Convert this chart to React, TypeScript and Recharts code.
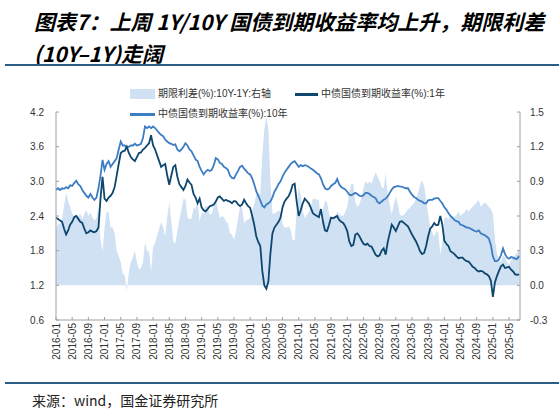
import { ComposedChart, Area, Line, XAxis, YAxis } from "recharts";

// semi-monthly readings, first point = 2016-01, step = half a month
const yield10Y = [
  2.85, 2.88, 2.85, 2.88, 2.87, 2.9, 2.88, 2.93, 2.92, 2.97, 3.01, 2.95, 2.92, 2.85, 2.8, 2.75, 2.72, 2.78, 2.72, 2.68,
  2.72, 2.88, 3.1, 3.37, 3.2, 3.3, 3.35, 3.25, 3.3, 3.35, 3.4, 3.55, 3.69, 3.62, 3.62, 3.58, 3.6, 3.62, 3.62, 3.65,
  3.62, 3.63, 3.65, 3.75, 3.95, 3.92, 3.95, 3.92, 3.95, 3.92, 3.88, 3.84, 3.8, 3.78, 3.72, 3.69, 3.66, 3.65, 3.63, 3.64,
  3.55, 3.52, 3.55, 3.6, 3.66, 3.62, 3.55, 3.52, 3.45, 3.38, 3.35, 3.25, 3.18, 3.12, 3.17, 3.2, 3.18, 3.2, 3.28, 3.4,
  3.38, 3.32, 3.3, 3.25, 3.23, 3.2, 3.1, 3.06, 3.05, 3.12, 3.18, 3.25, 3.27, 3.22, 3.18, 3.14, 3.12, 3.05, 2.95, 2.83,
  2.75, 2.67, 2.58, 2.55, 2.6, 2.62, 2.65, 2.72, 2.82, 2.88, 2.95, 3.0, 3.08, 3.15, 3.2, 3.25, 3.3, 3.33, 3.35, 3.3,
  3.25, 3.28, 3.26, 3.28, 3.27, 3.25, 3.22, 3.2, 3.17, 3.14, 3.12, 3.05, 2.95, 2.88, 2.86, 2.87, 2.92, 2.95, 2.97, 3.04,
  2.95, 2.9, 2.88, 2.86, 2.82, 2.77, 2.76, 2.78, 2.8, 2.78, 2.75, 2.74, 2.76, 2.8, 2.8, 2.78, 2.75, 2.73, 2.71, 2.64,
  2.62, 2.65, 2.68, 2.7, 2.74, 2.8, 2.86, 2.9, 2.91, 2.92, 2.91, 2.91, 2.89, 2.88, 2.88, 2.82, 2.77, 2.73, 2.71, 2.68,
  2.66, 2.65, 2.62, 2.62, 2.67, 2.68, 2.68, 2.7, 2.71, 2.71, 2.66, 2.62, 2.55, 2.51, 2.45, 2.4, 2.37, 2.33, 2.31, 2.3,
  2.25, 2.24, 2.22, 2.2, 2.2, 2.18, 2.16, 2.14, 2.13, 2.15, 2.1, 2.08, 2.07, 2.04, 2.01, 1.9, 1.7, 1.62, 1.62, 1.65,
  1.72, 1.84, 1.74, 1.68, 1.66, 1.69, 1.68, 1.66, 1.66, 1.71,
];

const yield1Y = [
  2.37, 2.35, 2.32, 2.3, 2.18, 2.08, 2.15, 2.25, 2.3, 2.38, 2.4, 2.35, 2.3, 2.28, 2.18, 2.1, 2.12, 2.15, 2.13, 2.12,
  2.14, 2.2, 2.7, 3.08, 2.7, 2.66, 2.72, 2.75, 2.8, 2.9, 3.1, 3.3, 3.49, 3.52, 3.53, 3.6, 3.49, 3.42, 3.38, 3.35,
  3.42, 3.49, 3.5, 3.55, 3.58, 3.62, 3.66, 3.8, 3.62, 3.55, 3.45, 3.35, 3.25, 3.28, 3.3, 3.1, 2.94, 3.1, 3.25, 3.28,
  3.08, 2.95, 2.9, 2.85, 2.92, 3.03, 2.98, 2.94, 2.78, 2.72, 2.62, 2.7, 2.55, 2.5, 2.48, 2.52, 2.57, 2.58, 2.6, 2.65,
  2.72, 2.74, 2.7, 2.66, 2.68, 2.66, 2.65, 2.62, 2.66, 2.65, 2.6, 2.57, 2.6, 2.68, 2.62, 2.57, 2.54, 2.4, 2.25, 2.05,
  1.95, 1.88, 1.45, 1.2, 1.14, 1.27, 1.75, 2.1, 2.2, 2.25, 2.3, 2.37, 2.55, 2.65, 2.7, 2.74, 2.82, 2.94, 2.96, 2.65,
  2.4, 2.5, 2.62, 2.7, 2.66, 2.62, 2.54, 2.45, 2.42, 2.4, 2.38, 2.52, 2.3, 2.15, 2.14, 2.25, 2.37, 2.36, 2.38, 2.4,
  2.33, 2.3, 2.28, 2.22, 2.14, 1.96, 1.88, 1.9, 2.08, 2.1, 2.05, 1.98, 1.92, 1.9, 1.92, 1.88, 1.87, 1.8, 1.73, 1.7,
  1.72, 1.8, 1.84, 1.73, 1.95, 2.1, 2.25, 2.2, 2.14, 2.22, 2.3, 2.31, 2.28, 2.25, 2.22, 2.15, 2.08, 2.02, 1.96, 1.88,
  1.79, 1.74, 1.76, 1.88, 2.05, 2.18, 2.22, 2.28, 2.24, 2.25, 2.4, 2.25, 1.97, 1.92, 1.88, 1.79, 1.77, 1.74, 1.7, 1.67,
  1.68, 1.68, 1.64, 1.62, 1.61, 1.57, 1.52, 1.5, 1.46, 1.44, 1.45, 1.44, 1.41, 1.39, 1.36, 1.28, 1.0, 1.25, 1.36, 1.45,
  1.53, 1.56, 1.5, 1.51, 1.52, 1.47, 1.44, 1.39, 1.38, 1.39,
];

const termSpread = [
  0.48, 0.53, 0.53, 0.58, 0.69, 0.8, 0.73, 0.68, 0.62, 0.59, 0.61, 0.6, 0.62, 0.57, 0.62, 0.65, 0.6, 0.63, 0.59, 0.56,
  0.58, 0.68, 0.4, 0.29, 0.5, 0.64, 0.63, 0.5, 0.5, 0.45, 0.3, 0.25, 0.2, 0.1, 0.09, -0.05, 0.11, 0.2, 0.24, 0.3,
  0.2, 0.14, 0.15, 0.2, 0.37, 0.3, 0.29, 0.12, 0.33, 0.37, 0.43, 0.49, 0.55, 0.5, 0.42, 0.59, 0.72, 0.55, 0.38, 0.36,
  0.47, 0.57, 0.65, 0.75, 0.74, 0.59, 0.57, 0.58, 0.67, 0.66, 0.73, 0.55, 0.63, 0.62, 0.69, 0.68, 0.61, 0.62, 0.68, 0.75,
  0.66, 0.58, 0.6, 0.59, 0.55, 0.54, 0.45, 0.44, 0.39, 0.47, 0.58, 0.68, 0.67, 0.54, 0.56, 0.57, 0.58, 0.65, 0.7, 0.78,
  0.8, 0.79, 1.13, 1.35, 1.46, 1.35, 0.9, 0.62, 0.62, 0.63, 0.65, 0.63, 0.53, 0.5, 0.5, 0.51, 0.48, 0.39, 0.39, 0.65,
  0.85, 0.78, 0.64, 0.58, 0.61, 0.63, 0.68, 0.75, 0.75, 0.74, 0.74, 0.53, 0.65, 0.73, 0.72, 0.62, 0.55, 0.59, 0.59, 0.64,
  0.62, 0.6, 0.6, 0.64, 0.68, 0.81, 0.88, 0.88, 0.72, 0.68, 0.7, 0.76, 0.84, 0.9, 0.88, 0.9, 0.88, 0.93, 0.98, 0.94,
  0.9, 0.85, 0.84, 0.97, 0.79, 0.7, 0.61, 0.7, 0.77, 0.7, 0.61, 0.6, 0.61, 0.63, 0.66, 0.67, 0.69, 0.71, 0.75, 0.8,
  0.87, 0.91, 0.86, 0.74, 0.62, 0.5, 0.46, 0.42, 0.47, 0.46, 0.26, 0.37, 0.58, 0.59, 0.57, 0.61, 0.6, 0.59, 0.61, 0.64,
  0.6, 0.62, 0.63, 0.66, 0.64, 0.66, 0.68, 0.7, 0.72, 0.74, 0.68, 0.7, 0.72, 0.7, 0.68, 0.66, 0.62, 0.4, 0.28, 0.22,
  0.2, 0.26, 0.24, 0.2, 0.18, 0.22, 0.24, 0.26, 0.28, 0.31,
];

const tickLabels = [
  "2016-01", "2016-05", "2016-09", "2017-01", "2017-05", "2017-09", "2018-01", "2018-05", "2018-09", "2019-01",
  "2019-05", "2019-09", "2020-01", "2020-05", "2020-09", "2021-01", "2021-05", "2021-09", "2022-01", "2022-05",
  "2022-09", "2023-01", "2023-05", "2023-09", "2024-01", "2024-05", "2024-09", "2025-01", "2025-05",
];

const leftTicks = [0.6, 1.2, 1.8, 2.4, 3.0, 3.6, 4.2];
const rightTicks = [-0.3, 0.0, 0.3, 0.6, 0.9, 1.2, 1.5];

const C_SPREAD = "#cfe1f2";
const C_1Y = "#0d466e";
const C_10Y = "#3c7dc3";
const RULE = "#2c5d85";
const AXIS = "#a0a0a0";

const data = yield10Y.map((v, i) => ({
  m: i / 2,
  y10: v,
  y1: yield1Y[i],
  spread: termSpread[i],
}));

const monthTicks = tickLabels.map((_, i) => i * 4);

function DateTick(props: any) {
  const { x, y, payload } = props;
  const label = tickLabels[Math.round(payload.value / 4)];
  return (
    <text
      x={x}
      y={y}
      transform={`rotate(-90 ${x} ${y})`}
      textAnchor="end"
      dy="0.35em"
      fontSize={10}
      fontFamily="Liberation Sans, Arial, sans-serif"
      fill="#333"
    >
      {label}
    </text>
  );
}

const legendText: React.CSSProperties = {
  position: "absolute",
  fontSize: 10,
  lineHeight: "12px",
  color: "#333",
  fontFamily: "'Liberation Sans', 'Noto Sans CJK SC', sans-serif",
  whiteSpace: "nowrap",
};

export default function App() {
  const tickFont = { fontSize: 10, fill: "#333", fontFamily: "Liberation Sans, Arial, sans-serif" };
  return (
    <div style={{ position: "relative", width: 559, height: 415, background: "#fff", overflow: "hidden" }}>
      <style>{"body{margin:0}"}</style>
      <div
        style={{
          position: "absolute",
          left: 34,
          top: 5,
          fontFamily: "'Noto Sans CJK SC', sans-serif",
          fontStyle: "italic",
          fontWeight: 700,
          fontSize: 21,
          lineHeight: "32px",
          color: "#000",
          whiteSpace: "nowrap",
        }}
      >
        <div>图表7：上周 1Y/10Y 国债到期收益率均上升，期限利差</div>
        <div>(10Y–1Y)走阔</div>
      </div>
      <div style={{ position: "absolute", left: 5, right: 0, top: 64, height: 2, background: RULE }} />

      <div style={{ position: "absolute", left: 130, top: 89, width: 25, height: 10, background: C_SPREAD }} />
      <div style={{ ...legendText, left: 158, top: 88 }}>期限利差(%):10Y-1Y:右轴</div>
      <div style={{ position: "absolute", left: 295, top: 93, width: 23, height: 3, background: C_1Y }} />
      <div style={{ ...legendText, left: 321, top: 88 }}>中债国债到期收益率(%):1年</div>
      <div style={{ position: "absolute", left: 130, top: 113, width: 25, height: 3, background: C_10Y }} />
      <div style={{ ...legendText, left: 158, top: 108 }}>中债国债到期收益率(%):10年</div>

      <div style={{ position: "absolute", left: 0, top: 0 }}>
        <ComposedChart width={559} height={365} data={data} margin={{ top: 112, right: 0, bottom: 0, left: 0 }}>
          <XAxis
            dataKey="m"
            type="number"
            scale="linear"
            domain={[0, 114.7]}
            ticks={monthTicks}
            interval={0}
            height={45}
            tickSize={-3}
            tickMargin={6}
            tick={<DateTick />}
            stroke={AXIS}
          />
          <YAxis
            yAxisId="left"
            orientation="left"
            width={56}
            domain={[0.6, 4.2]}
            ticks={leftTicks}
            interval={0}
            tickSize={-3}
            tickMargin={15}
            tick={tickFont}
            tickFormatter={(v: number) => v.toFixed(1)}
            stroke={AXIS}
          />
          <YAxis
            yAxisId="right"
            orientation="right"
            width={39}
            domain={[-0.3, 1.5]}
            ticks={rightTicks}
            interval={0}
            tickSize={-3}
            tickMargin={13}
            tick={tickFont}
            tickFormatter={(v: number) => v.toFixed(1)}
            stroke={AXIS}
          />
          <Area
            yAxisId="right"
            type="linear"
            dataKey="spread"
            stroke="none"
            fill={C_SPREAD}
            fillOpacity={1}
            isAnimationActive={false}
          />
          <Line
            yAxisId="left"
            type="linear"
            dataKey="y10"
            stroke={C_10Y}
            strokeWidth={1.8}
            dot={false}
            isAnimationActive={false}
          />
          <Line
            yAxisId="left"
            type="linear"
            dataKey="y1"
            stroke={C_1Y}
            strokeWidth={1.8}
            dot={false}
            isAnimationActive={false}
          />
        </ComposedChart>
      </div>

      <div style={{ position: "absolute", left: 5, right: 0, top: 382, height: 2, background: RULE }} />
      <div
        style={{
          position: "absolute",
          left: 32,
          top: 392,
          fontSize: 14,
          lineHeight: "16px",
          color: "#222",
          fontFamily: "'Noto Sans CJK SC', sans-serif",
          whiteSpace: "nowrap",
        }}
      >
        来源：wind，国金证券研究所
      </div>
    </div>
  );
}
